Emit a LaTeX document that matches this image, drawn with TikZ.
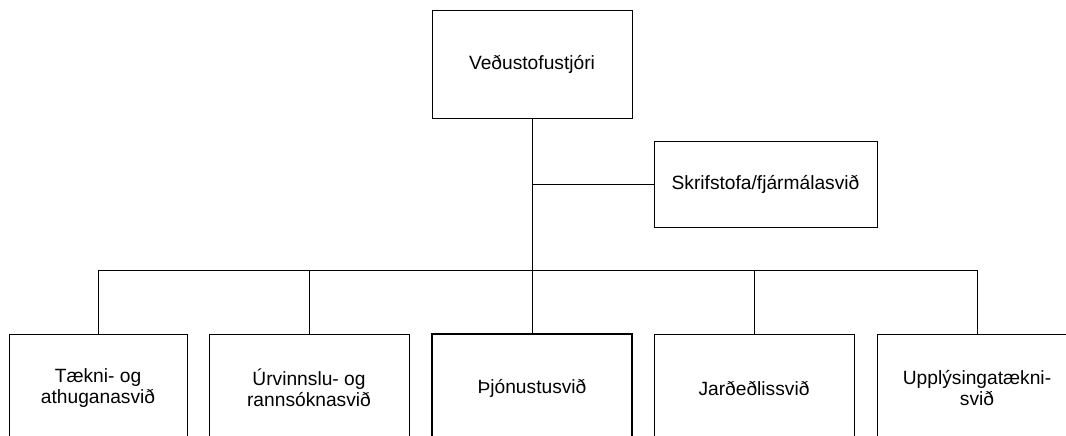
\documentclass[tikz,border=0pt]{standalone}
\usepackage{fontspec}
\setmainfont{Liberation Sans}
\begin{document}
\begin{tikzpicture}[x=1pt,y=-1pt,
  box/.style={draw=black, line width=1pt, fill=white, align=center, inner sep=0pt,
    font=\fontsize{19.2}{21}\selectfont, minimum height=108pt},
  thickbox/.style={box, line width=2pt},
  conn/.style={draw=black, line width=1pt}]
\useasboundingbox (0,0) rectangle (1066,436);
\clip (0,0) rectangle (1066,436);
\node[box, minimum width=200pt, minimum height=107pt] (top) at (532,64.5) {Veðustofustjóri};
\node[box, minimum width=223pt, minimum height=86pt] (skrif) at (765.5,184) {Skrifstofa/fjármálasvið};
\node[box, minimum width=178pt] (b1) at (98,388) {Tækni- og\\athuganasvið};
\node[box, minimum width=200pt] (b2) at (309,388) {Úrvinnslu- og\\rannsóknasvið};
\node[thickbox, minimum width=200pt] (b3) at (532,388) {Þjónustusvið};
\node[box, minimum width=200pt] (b4) at (754,388) {Jarðeðlissvið};
\node[box, minimum width=200pt] (b5) at (977,388) {Upplýsingatækni-\\svið};
\coordinate (bus) at (532,270);
\draw[conn] (top.south) -- (b3.north);
\draw[conn] (skrif.west) -- (skrif.west -| top.south);
\draw[conn] (b1.north) -- (b1.north |- bus) -- (b5.north |- bus) -- (b5.north);
\draw[conn] (b2.north) -- (b2.north |- bus);
\draw[conn] (b4.north) -- (b4.north |- bus);
\end{tikzpicture}
\end{document}
